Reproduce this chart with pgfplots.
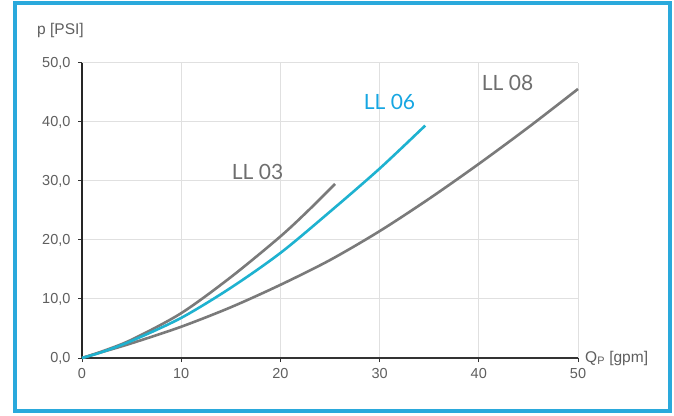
\documentclass[border=0pt]{standalone}
\usepackage{fontspec}
\setmainfont{Liberation Sans}
\newfontfamily\lato{Lato}
\usepackage{pgfplots}
\pgfplotsset{compat=1.18}
\definecolor{frame}{RGB}{42,169,220}
\definecolor{curvegray}{RGB}{122,122,122}
\definecolor{curvecyan}{RGB}{30,178,208}
\definecolor{labcyan}{RGB}{22,166,226}
\definecolor{labgray}{RGB}{110,110,110}
\definecolor{ticktxt}{RGB}{95,95,95}
\begin{document}
\begin{tikzpicture}
\path[use as bounding box] (0pt,0pt) rectangle (674pt,415pt);
\fill[white] (0pt,0pt) rectangle (674pt,415pt);
\draw[frame, line width=4pt] (15pt,4pt) rectangle (670pt,412pt);
\begin{axis}[
  at={(82pt,57pt)}, anchor=south west,
  scale only axis, width=496pt, height=295pt,
  xmin=0, xmax=50, ymin=0, ymax=50,
  xtick={0,10,...,50}, ytick={0,10,...,50},
  axis lines*=left,
  x axis line style={draw=black!80, line width=1.2pt},
  y axis line style={draw=black!85, line width=1.8pt},
  grid=major,
  major grid style={draw=black!12, line width=1pt},
  tick align=outside,
  major tick length=4pt,
  tick style={draw=black!80, line width=1pt},
  /pgf/number format/assume math mode=true,
  yticklabel style={/pgf/number format/fixed, /pgf/number format/fixed zerofill, /pgf/number format/precision=1, /pgf/number format/use comma, xshift=-4pt},
  ticklabel style={font=\fontsize{14.5}{16}\selectfont, text=ticktxt},
  xticklabel style={yshift=-3pt},
  clip=false,
]
\addplot[curvegray, line width=2.6pt, smooth, tension=0.5] coordinates {
 (0,0) (2,1.0) (5,2.5) (10,5.3) (15,8.6) (20,12.4) (25,16.6) (30,21.5) (35,27.0) (40,32.9) (45,39.1) (50,45.6)};
\addplot[curvegray, line width=2.6pt, smooth, tension=0.5] coordinates {
 (0,0) (2,1.1) (5,3.1) (10,7.6) (15,13.7) (20,20.6) (23,25.3) (25.5,29.5)};
\addplot[curvecyan, line width=2.6pt, smooth, tension=0.5] coordinates {
 (0,0) (2,1.0) (5,2.9) (10,6.8) (15,11.9) (20,17.8) (25,24.8) (30,32.1) (34.6,39.4)};
\node[font=\lato\fontsize{21}{23}\selectfont, text=labgray] at (axis cs:17.7,31.5) {LL 03};
\node[font=\lato\fontsize{21}{23}\selectfont, text=labcyan] at (axis cs:31.0,43.4) {LL 06};
\node[font=\lato\fontsize{21}{23}\selectfont, text=labgray] at (axis cs:42.9,46.6) {LL 08};
\node[anchor=west, font=\fontsize{15.5}{17}\selectfont, text=ticktxt, inner sep=0pt] at (axis cs:50,0) {\hspace{7pt}Q\textsubscript{P} [gpm]};
\end{axis}
\node[anchor=west, font=\fontsize{15.5}{17}\selectfont, text=ticktxt, inner sep=0pt] at (37pt,385pt) {p [PSI]};
\end{tikzpicture}
\end{document}
